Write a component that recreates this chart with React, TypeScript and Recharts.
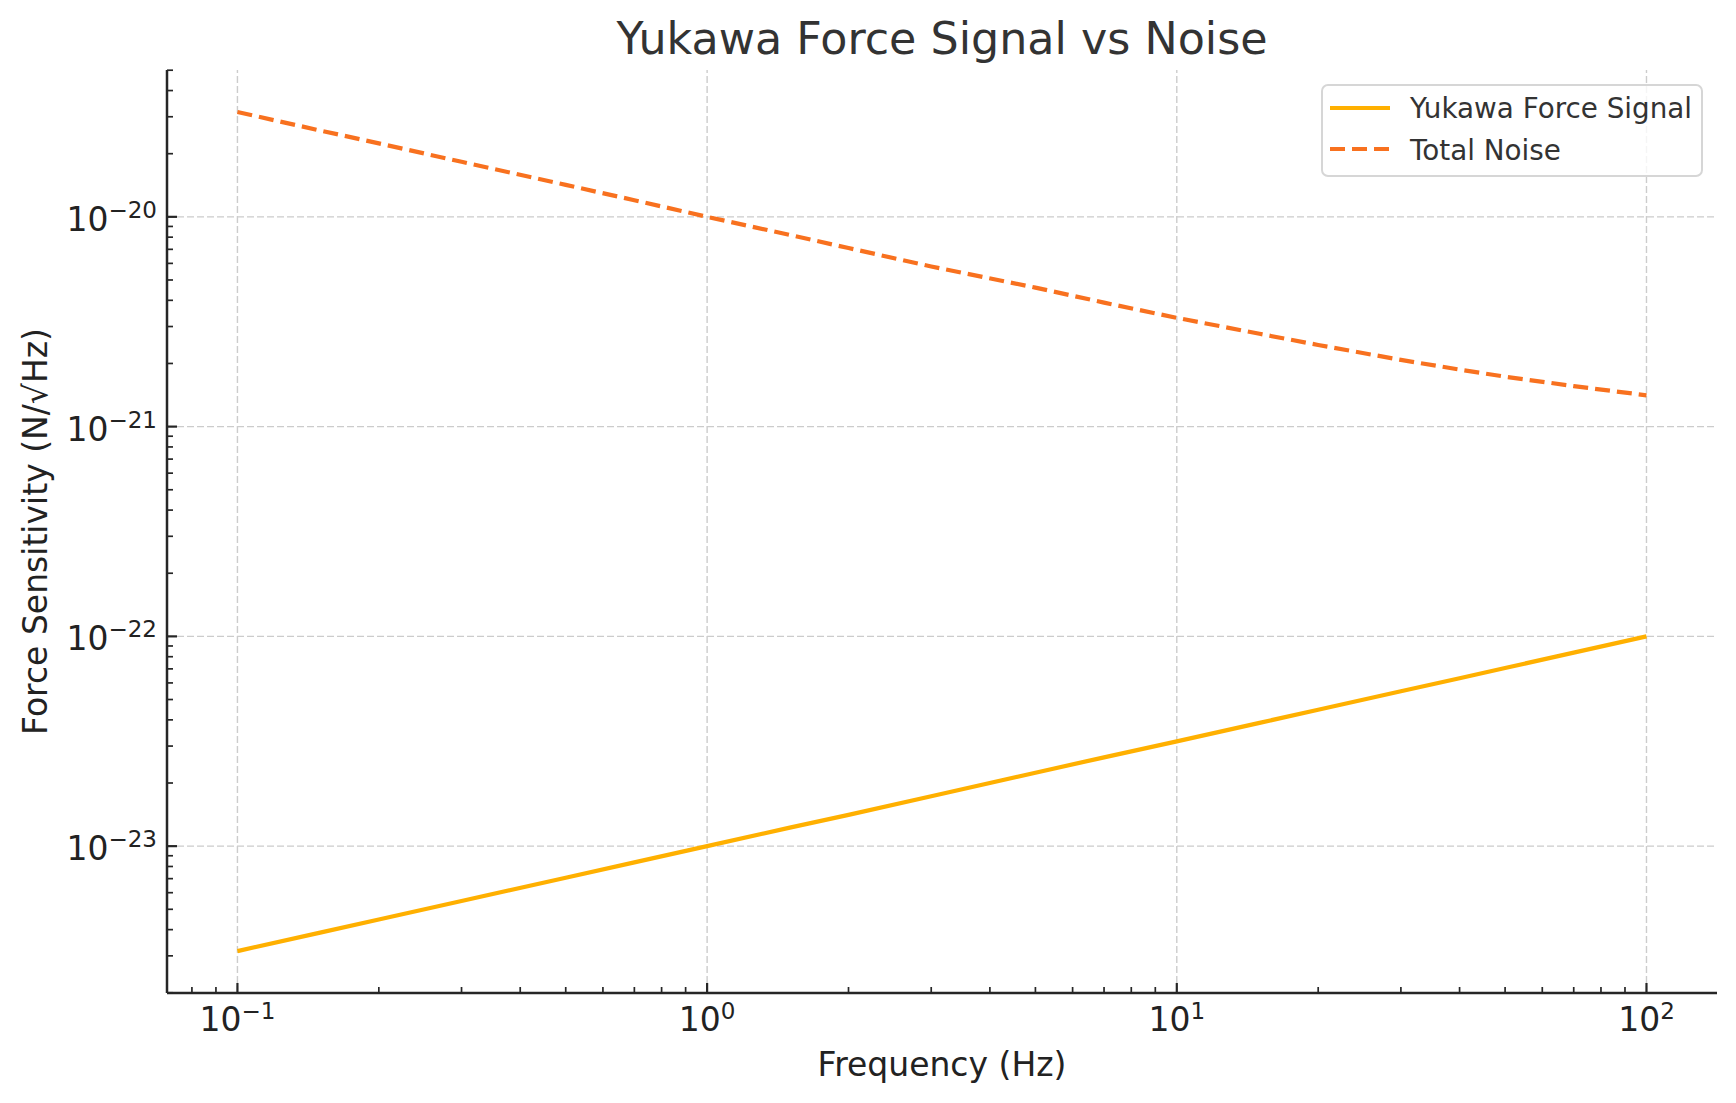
import { LineChart, Line, XAxis, YAxis, ReferenceLine, Legend } from "recharts"

// frequencies (Hz) read along the x axis
const freqs = [0.1, 0.15, 0.2, 0.3, 0.5, 0.7, 1, 1.5, 2, 3, 5, 7, 10, 15, 20, 30, 40, 50, 70, 100]
// Yukawa force signal (N/√Hz)
const signal = [
  3.16e-24, 3.87e-24, 4.47e-24, 5.48e-24, 7.07e-24, 8.37e-24, 1.0e-23, 1.225e-23, 1.41e-23, 1.73e-23,
  2.24e-23, 2.65e-23, 3.16e-23, 3.87e-23, 4.47e-23, 5.48e-23, 6.32e-23, 7.07e-23, 8.37e-23, 1.0e-22,
]
// total noise (N/√Hz)
const noise = [
  3.16e-20, 2.58e-20, 2.24e-20, 1.83e-20, 1.42e-20, 1.2e-20, 1.0e-20, 8.2e-21, 7.1e-21, 5.8e-21,
  4.6e-21, 3.9e-21, 3.3e-21, 2.77e-21, 2.45e-21, 2.08e-21, 1.87e-21, 1.73e-21, 1.56e-21, 1.41e-21,
]

const xMajorTicks = [0.1, 1, 10, 100]
const xTickExponents = ["\u22121", "0", "1", "2"]
const yMajorTicks = [1e-23, 1e-22, 1e-21, 1e-20]
const yTickExponents = ["\u221223", "\u221222", "\u221221", "\u221220"]
const minorSteps = [2, 3, 4, 5, 6, 7, 8, 9]

const xDomain = [0.0708, 141.3]
const yDomain = [1.995e-24, 5.012e-20]

const data = freqs.map((f, i) => ({ f, signal: signal[i], noise: noise[i] }))

const withMinors = (majors: number[], dom: number[]) => {
  const out: number[] = []
  const decades = [majors[0] / 10, ...majors]
  decades.forEach((d) => {
    out.push(d)
    minorSteps.forEach((m) => out.push(d * m))
  })
  return out.filter((v) => v >= dom[0] && v <= dom[1])
}
const xTicks = withMinors(xMajorTicks, xDomain)
const yTicks = withMinors(yMajorTicks, yDomain)

const FONT = "DejaVu Sans"
const AXIS = "#262626"
const TEXT = "#222222"
const GRID = "#cccccc"
const SIGNAL = "#FFB000"
const NOISE = "#F8711F"

const majorIndex = (majors: number[], v: number) =>
  majors.findIndex((m) => Math.abs(m - v) / m < 1e-6)

function XTick(props: any) {
  const { x, y, payload } = props
  const idx = majorIndex(xMajorTicks, payload.value)
  if (idx < 0) {
    return <line x1={x} x2={x} y1={y} y2={y - 6} stroke={AXIS} strokeWidth={1.7} />
  }
  return (
    <g>
      <line x1={x} x2={x} y1={y} y2={y - 10} stroke={AXIS} strokeWidth={2.2} />
      <text x={x} y={y + 38} textAnchor="middle" fontFamily={FONT} fontSize={33} fill={TEXT}>
        <tspan>10</tspan>
        <tspan dy={-12} fontSize={23}>{xTickExponents[idx]}</tspan>
      </text>
    </g>
  )
}

function YTick(props: any) {
  const { x, y, payload } = props
  const idx = majorIndex(yMajorTicks, payload.value)
  if (idx < 0) {
    return <line x1={x} x2={x + 6} y1={y} y2={y} stroke={AXIS} strokeWidth={1.7} />
  }
  return (
    <g>
      <line x1={x} x2={x + 10} y1={y} y2={y} stroke={AXIS} strokeWidth={2.2} />
      <text x={x - 10} y={y + 14} textAnchor="end" fontFamily={FONT} fontSize={33} fill={TEXT}>
        <tspan>10</tspan>
        <tspan dy={-13} fontSize={23}>{yTickExponents[idx]}</tspan>
      </text>
    </g>
  )
}

function XLabel(props: any) {
  const { viewBox } = props
  return (
    <text x={viewBox.x + viewBox.width / 2} y={1076} textAnchor="middle" fontFamily={FONT} fontSize={33} fill={TEXT}>
      Frequency (Hz)
    </text>
  )
}

function YLabel(props: any) {
  const { viewBox } = props
  const cy = viewBox.y + viewBox.height / 2
  return (
    <text x={47} y={cy} transform={`rotate(-90 47 ${cy})`} textAnchor="middle" fontFamily={FONT} fontSize={33} fill={TEXT}>
      Force Sensitivity (N/√Hz)
    </text>
  )
}

function LegendBox() {
  return (
    <div
      style={{
        boxSizing: "border-box",
        width: 382,
        height: 93,
        border: "2px solid #d6d6d6",
        borderRadius: 7,
        background: "rgba(255,255,255,0.8)",
      }}
    >
      <svg width={378} height={89} style={{ display: "block" }}>
        <line x1={7} x2={67} y1={22} y2={22} stroke={SIGNAL} strokeWidth={4.2} />
        <text x={87} y={32} fontFamily={FONT} fontSize={27.8} fill="#333">Yukawa Force Signal</text>
        <line x1={7} x2={67} y1={63} y2={63} stroke={NOISE} strokeWidth={4.2} strokeDasharray="15 7" />
        <text x={87} y={74} fontFamily={FONT} fontSize={27.8} fill="#333">Total Noise</text>
      </svg>
    </div>
  )
}

export default function App() {
  return (
    <div style={{ position: "absolute", left: 0, top: 0, width: 1736, height: 1103, background: "#fff" }}>
      <LineChart width={1736} height={1103} data={data} margin={{ top: 70, right: 19, bottom: 0, left: 0 }}>
        <text x={942} y={54} textAnchor="middle" fontFamily={FONT} fontSize={44.4} fill="#333">
          Yukawa Force Signal vs Noise
        </text>
        {xMajorTicks.map((v) => (
          <ReferenceLine key={`gx${v}`} x={v} stroke={GRID} strokeWidth={1.4} strokeDasharray="7 3" />
        ))}
        {yMajorTicks.map((v) => (
          <ReferenceLine key={`gy${v}`} y={v} stroke={GRID} strokeWidth={1.4} strokeDasharray="7 3" />
        ))}
        <XAxis
          dataKey="f"
          type="number"
          scale="log"
          domain={xDomain}
          allowDataOverflow
          ticks={xTicks}
          interval={0}
          tickSize={0}
          tickMargin={0}
          tickLine={false}
          tick={<XTick />}
          height={110}
          axisLine={{ stroke: AXIS, strokeWidth: 2.5 }}
          label={<XLabel />}
        />
        <YAxis
          type="number"
          scale="log"
          domain={yDomain}
          allowDataOverflow
          ticks={yTicks}
          interval={0}
          tickSize={0}
          tickMargin={0}
          tickLine={false}
          tick={<YTick />}
          width={167}
          axisLine={{ stroke: AXIS, strokeWidth: 2.5 }}
          label={<YLabel />}
        />
        <Legend
          layout="vertical"
          align="center"
          verticalAlign="middle"
          content={() => <LegendBox />}
          wrapperStyle={{ left: 1321, top: 84, width: 382, height: 93 }}
        />
        <Line
          dataKey="signal"
          type="linear"
          stroke={SIGNAL}
          strokeWidth={4.2}
          dot={false}
          activeDot={false}
          isAnimationActive={false}
        />
        <Line
          dataKey="noise"
          type="linear"
          stroke={NOISE}
          strokeWidth={4.2}
          strokeDasharray="15 7"
          dot={false}
          activeDot={false}
          isAnimationActive={false}
        />
      </LineChart>
    </div>
  )
}
